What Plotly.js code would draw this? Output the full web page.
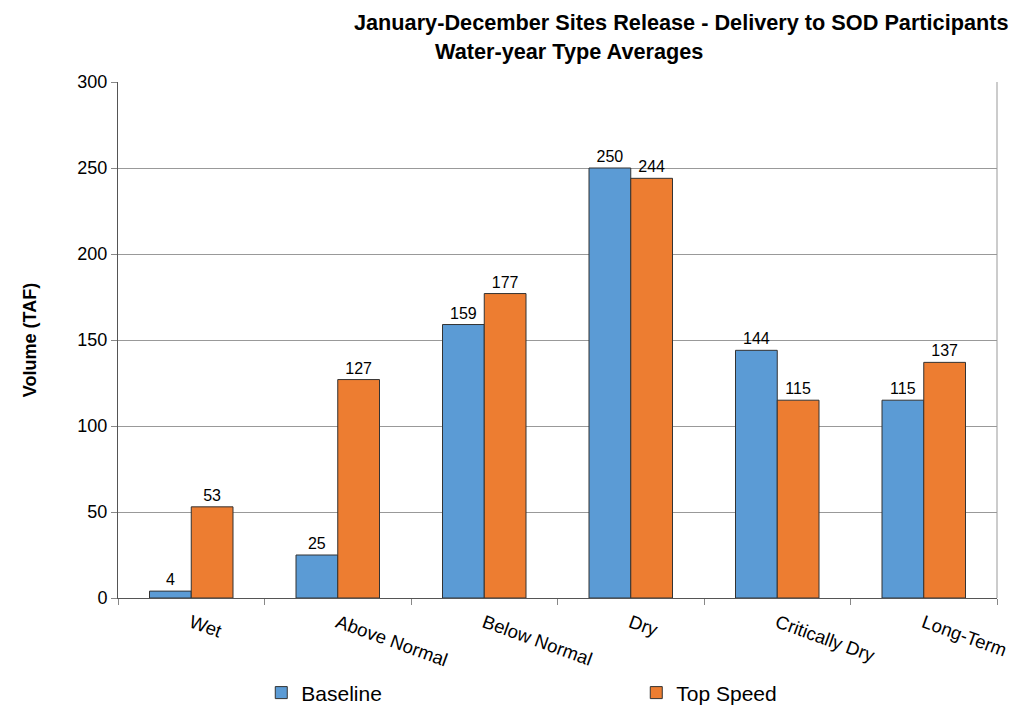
<!DOCTYPE html>
<html><head><meta charset="utf-8">
<script src="https://cdn.plot.ly/plotly-3.0.1.min.js"></script>
<style>body{margin:0;background:#fff}#chart{width:1026px;height:708px}</style>
</head><body><div id="chart"></div>
<script>
const categories = ["Wet", "Above Normal", "Below Normal", "Dry", "Critically Dry", "Long-Term"];
const baseline = [4, 25, 159, 250, 144, 115];
const topSpeed = [53, 127, 177, 244, 115, 137];
const yTicks = [0, 50, 100, 150, 200, 250, 300];

const font = "Liberation Sans, Arial, sans-serif";
const traces = [
  {type: "bar", name: "Baseline", x: categories, y: baseline,
   marker: {color: "#5B9BD5", line: {color: "#333333", width: 1}},
   text: baseline.map(String), textposition: "outside", cliponaxis: false,
   textfont: {family: font, size: 16, color: "#000"}},
  {type: "bar", name: "Top Speed", x: categories, y: topSpeed,
   marker: {color: "#ED7D31", line: {color: "#333333", width: 1}},
   text: topSpeed.map(String), textposition: "outside", cliponaxis: false,
   textfont: {family: font, size: 16, color: "#000"}}
];
const layout = {
  width: 1026, height: 708,
  margin: {l: 118, r: 29, t: 82, b: 110, autoexpand: false},
  paper_bgcolor: "#fff", plot_bgcolor: "#fff",
  font: {family: font, color: "#000"},
  barmode: "group", bargap: 0.43, bargroupgap: 0,
  showlegend: true,
  legend: {orientation: "h", x: 0.163, xanchor: "left", y: -0.184, yanchor: "middle",
           font: {size: 21}, traceorder: "normal", itemwidth: 30, entrywidth: 330},
  xaxis: {type: "category", tickangle: 20, tickfont: {size: 18.5}, showline: true,
          linecolor: "#555", linewidth: 1, ticks: "outside", tickson: "boundaries",
          ticklen: 6, tickcolor: "#888", mirror: false, showgrid: false,
          ticklabelstandoff: 6},
  yaxis: {range: [0, 300], tickvals: yTicks, tickfont: {size: 18}, showline: true,
          linecolor: "#555", linewidth: 1, ticks: "outside", ticklen: 6, tickcolor: "#888",
          gridcolor: "#999", gridwidth: 1, zeroline: false,
          title: {text: "<b>Volume (TAF)</b>", font: {size: 18}, standoff: 36}},
  shapes: [{type: "line", xref: "paper", yref: "paper", x0: 1, x1: 1, y0: 0, y1: 1,
            line: {color: "#999", width: 1}}],
  annotations: [
    {text: "<b>January-December Sites Release - Delivery to SOD Participants</b>",
     xref: "paper", yref: "paper", x: 1.0, xanchor: "right", y: 1.116, yanchor: "middle",
     xshift: 14, showarrow: false, font: {size: 21.7}},
    {text: "<b>Water-year Type Averages</b>",
     xref: "paper", yref: "paper", x: 0.358, xanchor: "left", y: 1.06, yanchor: "middle",
     showarrow: false, font: {size: 21.7}}
  ]
};
Plotly.newPlot("chart", traces, layout, {displayModeBar: false});
</script></body></html>
